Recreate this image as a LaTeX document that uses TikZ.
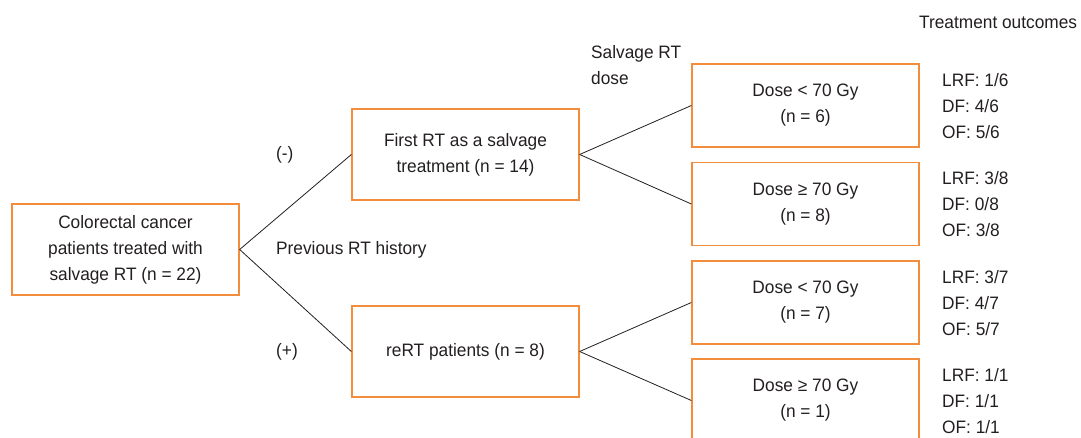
\documentclass[tikz,border=0pt]{standalone}
\usepackage{fontspec}
\setmainfont{Liberation Sans}[FakeStretch=0.96]
\definecolor{boxorange}{RGB}{242,141,62}
\definecolor{txt}{RGB}{35,31,32}
\begin{document}
\begin{tikzpicture}[x=1pt,y=-1pt,
  every node/.style={text=txt,font=\fontsize{18}{26}\selectfont,inner sep=0pt},
  box/.style={draw=boxorange,line width=1.3pt,align=center,minimum width=227pt},
  bigbox/.style={box,minimum height=91pt},
  dosebox/.style={box,minimum height=83pt},
  lbl/.style={anchor=west,align=left},
  conn/.style={draw=txt,line width=0.8pt}]
\useasboundingbox (0,0) rectangle (1081,438);
\node[bigbox] (root) at (125.5,249.5) {Colorectal cancer\\patients treated with\\salvage RT (n = 22)};
\node[bigbox] (first) at (465.5,154.5) {First RT as a salvage\\treatment (n = 14)};
\node[bigbox] (rert) at (465.5,351.5) {reRT patients (n = 8)};
\node[dosebox] (d1) at (805.5,105.5) {Dose < 70 Gy\\(n = 6)};
\node[dosebox] (d2) at (805.5,204) {Dose ≥ 70 Gy\\(n = 8)};
\node[dosebox] (d3) at (805.5,302.5) {Dose < 70 Gy\\(n = 7)};
\node[dosebox] (d4) at (805.5,400.5) {Dose ≥ 70 Gy\\(n = 1)};
\draw[conn] (root.east) -- (first.west);
\draw[conn] (root.east) -- (rert.west);
\draw[conn] (first.east) -- (d1.west);
\draw[conn] (first.east) -- (d2.west);
\draw[conn] (rert.east) -- (d3.west);
\draw[conn] (rert.east) -- (d4.west);
\node[lbl] (minus) at (276,155) {(-)};
\node[lbl] (plus) at (276,352) {(+)};
\node[lbl] (prev) at (276,250) {Previous RT history};
\node[lbl] (salv) at (591,65) {Salvage RT\\dose};
\node[lbl] (tout) at (919,22) {Treatment outcomes};
\node[lbl] (o1) at (942,106) {LRF: 1/6\\DF: 4/6\\OF: 5/6};
\node[lbl] (o2) at (942,204) {LRF: 3/8\\DF: 0/8\\OF: 3/8};
\node[lbl] (o3) at (942,303) {LRF: 3/7\\DF: 4/7\\OF: 5/7};
\node[lbl] (o4) at (942,401) {LRF: 1/1\\DF: 1/1\\OF: 1/1};
\end{tikzpicture}
\end{document}
